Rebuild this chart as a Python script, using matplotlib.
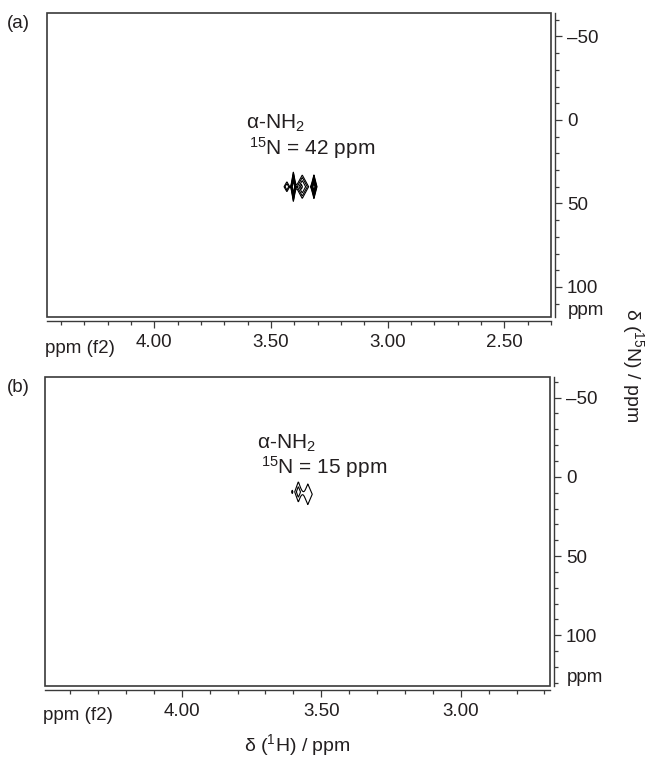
import matplotlib
matplotlib.use('Agg')
import matplotlib.pyplot as plt
import numpy as np
from matplotlib.patches import Rectangle
from matplotlib.ticker import FixedLocator, FixedFormatter, MultipleLocator

plt.rcParams['font.family'] = ['Liberation Sans', 'DejaVu Sans']
plt.rcParams['mathtext.fontset'] = 'custom'
plt.rcParams['mathtext.rm'] = 'Liberation Sans'
plt.rcParams['mathtext.it'] = 'Liberation Sans:italic'
plt.rcParams['mathtext.bf'] = 'Liberation Sans:bold'

INK = '#231f20'
FRAME = '#3a3a3a'
FS = 13.5       # tick labels
FS_NOTE = 15    # peak annotations
FS_TITLE = 14   # axis titles

# ---- panel (a) ----
A_XLIM = (4.46, 2.30)
A_YLIM = (118, -64)
A_XTICKS = [4.00, 3.50, 3.00, 2.50]
A_XLABELS = ['4.00', '3.50', '3.00', '2.50']
A_YTICKS = [-50, 0, 50, 100]
A_YLABELS = ['\u201350', '0', '50', '100']
# cross-peak components (1H ppm, 15N ppm, width 1H, width 15N, height)
A_PEAK_X = [3.432, 3.404, 3.366, 3.370, 3.316]
A_PEAK_Y = [40, 40, 40, 40, 40]
A_PEAK_WX = [0.0145, 0.0072, 0.026, 0.003, 0.009]
A_PEAK_WY = [3.6, 5.9, 6.7, 1.5, 4.9]
A_PEAK_H = [0.2, 1.0, 0.3, 0.15, 0.8]
A_LEVELS = [0.1, 0.15, 0.22, 0.32, 0.45, 0.65]
A_NAME = '\u03b1-NH$_2$'
A_SHIFT = '$^{15}$N = 42 ppm'

# ---- panel (b) ----
B_XLIM = (4.49, 2.68)
B_YLIM = (132, -63)
B_XTICKS = [4.00, 3.50, 3.00]
B_XLABELS = ['4.00', '3.50', '3.00']
B_YTICKS = [-50, 0, 50, 100]
B_YLABELS = ['\u201350', '0', '50', '100']
B_PEAK_X = [3.604, 3.582, 3.548]
B_PEAK_Y = [9.5, 9.5, 11.0]
B_PEAK_WX = [0.0024, 0.0124, 0.019]
B_PEAK_WY = [1.2, 6.2, 7.8]
B_PEAK_H = [0.2, 0.3, 0.2]
B_LEVELS = [0.1, 0.22]
B_NAME = '\u03b1-NH$_2$'
B_SHIFT = '$^{15}$N = 15 ppm'


def spectrum(xlim, ylim, px, py, wx, wy, h):
    x = np.linspace(min(xlim), max(xlim), 1200)
    y = np.linspace(min(ylim), max(ylim), 900)
    X, Y = np.meshgrid(x, y)
    Z = np.zeros_like(X)
    for cx, cy, sx, sy, a in zip(px, py, wx, wy, h):
        r = np.abs(X - cx) / sx + np.abs(Y - cy) / sy
        Z += a * np.exp(-r ** 2)
    return X, Y, Z


def panel(ax, xlim, ylim, xticks, xlabels, yticks, ylabels, peaks, levels):
    X, Y, Z = spectrum(xlim, ylim, *peaks)
    ax.contour(X, Y, Z, levels=levels, colors='black', linewidths=0.8)
    ax.set_xlim(*xlim)
    ax.set_ylim(*ylim)
    ax.add_patch(Rectangle((0, 0), 1, 1, transform=ax.transAxes, fill=False,
                           edgecolor=FRAME, linewidth=1.2, clip_on=False))
    for s in ['top', 'left']:
        ax.spines[s].set_visible(False)
    for s in ['bottom', 'right']:
        ax.spines[s].set_position(('outward', 3))
        ax.spines[s].set_color(FRAME)
        ax.spines[s].set_linewidth(1.0)
    ax.yaxis.tick_right()
    ax.xaxis.set_major_locator(FixedLocator(xticks))
    ax.xaxis.set_major_formatter(FixedFormatter(xlabels))
    ax.xaxis.set_minor_locator(MultipleLocator(0.1))
    ax.yaxis.set_major_locator(FixedLocator(yticks))
    ax.yaxis.set_major_formatter(FixedFormatter(ylabels))
    ax.yaxis.set_minor_locator(MultipleLocator(10))
    ax.tick_params(which='major', length=5, width=0.9, color=FRAME,
                   labelsize=FS, labelcolor=INK)
    ax.tick_params(which='minor', length=3, width=0.9, color=FRAME)
    ax.tick_params(axis='x', which='both', direction='out', pad=4.5)
    ax.tick_params(axis='y', which='both', direction='out', pad=3.5)


fig = plt.figure(figsize=(6.5, 7.61), dpi=100)
ax_a = fig.add_axes([0.0723, 0.5834, 0.7754, 0.3995])
ax_b = fig.add_axes([0.0692, 0.0986, 0.7770, 0.4060])

panel(ax_a, A_XLIM, A_YLIM, A_XTICKS, A_XLABELS, A_YTICKS, A_YLABELS,
      (A_PEAK_X, A_PEAK_Y, A_PEAK_WX, A_PEAK_WY, A_PEAK_H), A_LEVELS)
panel(ax_b, B_XLIM, B_YLIM, B_XTICKS, B_XLABELS, B_YTICKS, B_YLABELS,
      (B_PEAK_X, B_PEAK_Y, B_PEAK_WX, B_PEAK_WY, B_PEAK_H), B_LEVELS)

# peak labels
ax_a.text(3.607, 2, A_NAME, fontsize=FS_NOTE, color=INK, ha='left', va='center')
ax_a.text(3.594, 17, A_SHIFT, fontsize=FS_NOTE, color=INK, ha='left', va='center')
ax_b.text(3.73, -21, B_NAME, fontsize=FS_NOTE, color=INK, ha='left', va='center')
ax_b.text(3.716, -6, B_SHIFT, fontsize=FS_NOTE, color=INK, ha='left', va='center')

# axis unit labels
for ax, yp, yf in [(ax_a, 0.02, -0.105), (ax_b, 0.026, -0.097)]:
    ax.text(1.034, yp, 'ppm', transform=ax.transAxes, fontsize=FS, color=INK,
            ha='left', va='center')
    ax.text(-0.004, yf, 'ppm (f2)', transform=ax.transAxes, fontsize=FS,
            color=INK, ha='left', va='center')

fig.text(18 / 650, 1 - 23 / 761, '(a)', fontsize=FS, color=INK, ha='center', va='center')
fig.text(18 / 650, 1 - 387 / 761, '(b)', fontsize=FS, color=INK, ha='center', va='center')

fig.text(633 / 650, 1 - 365 / 761, '\u03b4 ($^{15}$N) / ppm', rotation=270,
         fontsize=FS_TITLE, color=INK, ha='center', va='center')
fig.text(297 / 650, 1 - 745 / 761, '\u03b4 ($^{1}$H) / ppm',
         fontsize=FS_TITLE, color=INK, ha='center', va='center')

fig.savefig('out.png', dpi=100)
